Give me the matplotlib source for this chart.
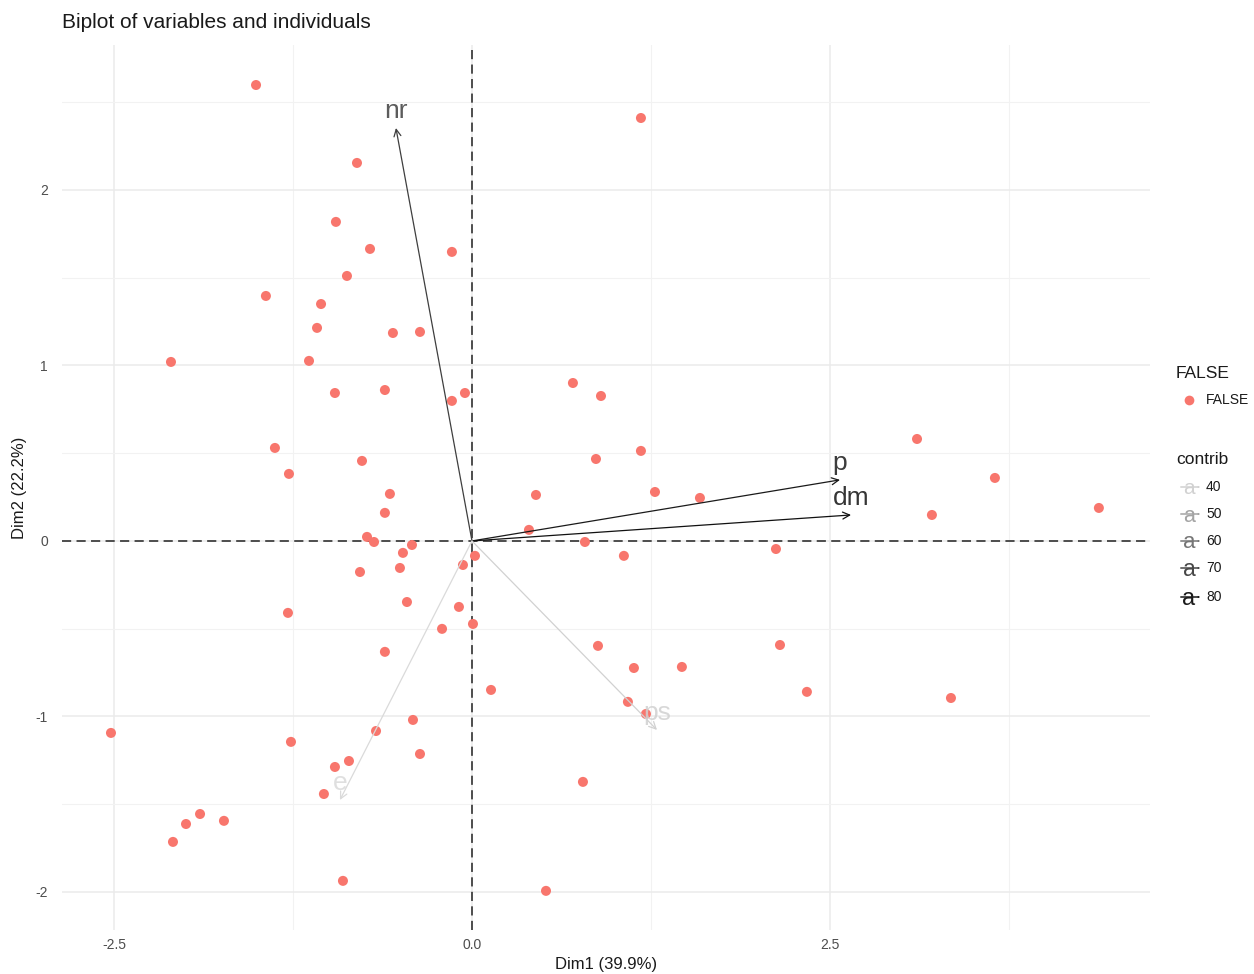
import matplotlib
matplotlib.use("Agg")
import matplotlib.pyplot as plt
import numpy as np
from matplotlib.colors import LinearSegmentedColormap, Normalize

plt.rcParams["font.family"] = ["Liberation Sans", "DejaVu Sans"]

# Individuals: coordinates on the first two principal dimensions
ind_x = [-1.508, 1.180, -0.803, -0.950, -0.712, -0.140, -0.873, -1.439, -1.054, -1.082,
         -0.552, -0.363, -1.138, -2.102, -0.957, -0.608, -0.049, -0.140, 0.705, 0.901,
         -1.376, -1.278, -0.768, 0.866, 1.180, 3.108, 3.652, 4.378, 3.212, 1.278,
         1.592, 0.447, -0.573, -0.608, 0.398, -0.733, -0.684, 0.789, -0.419, -0.482,
         0.021, -0.063, -0.782, -0.503, 1.061, 2.123, -0.454, -0.091, -1.285, 0.007,
         -0.209, -0.608, 0.880, 2.151, 1.131, 1.466, 0.133, 2.339, 3.345, 1.089,
         1.215, -0.412, -2.521, -0.670, -1.264, -0.363, -0.859, -0.957, 0.775, -1.034,
         -1.732, -1.899, -1.997, -2.088, -0.901, 0.517]
ind_y = [2.598, 2.410, 2.154, 1.818, 1.664, 1.647, 1.510, 1.396, 1.350, 1.214,
         1.185, 1.191, 1.026, 1.020, 0.843, 0.860, 0.843, 0.798, 0.900, 0.826,
         0.530, 0.382, 0.456, 0.467, 0.513, 0.581, 0.359, 0.188, 0.148, 0.279,
         0.245, 0.262, 0.268, 0.160, 0.063, 0.023, -0.006, -0.006, -0.023, -0.068,
         -0.085, -0.137, -0.177, -0.154, -0.085, -0.046, -0.348, -0.376, -0.410, -0.473,
         -0.501, -0.632, -0.598, -0.593, -0.724, -0.718, -0.849, -0.860, -0.895, -0.917,
         -0.986, -1.020, -1.094, -1.083, -1.145, -1.214, -1.254, -1.288, -1.373, -1.442,
         -1.595, -1.556, -1.613, -1.715, -1.937, -1.994]

# Variables: arrow tips and contributions
var_names = ["nr", "p", "dm", "ps", "e"]
var_x = [-0.531, 2.570, 2.647, 1.292, -0.922]
var_y = [2.353, 0.348, 0.148, -1.077, -1.476]
var_contrib = [72, 80, 82, 40, 38]

contrib_breaks = [40, 50, 60, 70, 80]
x_ticks = [-2.5, 0.0, 2.5]
x_ticklabels = ["-2.5", "0.0", "2.5"]
y_ticks = [-2, -1, 0, 1, 2]
y_ticklabels = ["-2", "-1", "0", "1", "2"]

point_color = "#F8766D"
cmap = LinearSegmentedColormap.from_list("contrib", ["#dadada", "#111111"])
norm = Normalize(vmin=min(var_contrib), vmax=max(var_contrib))

W, H = 1254, 974
fig = plt.figure(figsize=(W / 100, H / 100), dpi=100)
ax = fig.add_axes([62 / W, 1 - 930 / H, (1150 - 62) / W, (930 - 45) / H])

ax.set_xlim(-2.863, 4.735)
ax.set_ylim(-2.217, 2.826)

# grid like a minimal theme
ax.set_xticks(x_ticks)
ax.set_xticklabels(x_ticklabels)
ax.set_yticks(y_ticks)
ax.set_yticklabels(y_ticklabels)
ax.set_xticks([-1.25, 1.25, 3.75], minor=True)
ax.set_yticks([-1.5, -0.5, 0.5, 1.5, 2.5], minor=True)
ax.grid(which="major", color="#ebebeb", lw=1.1)
ax.grid(which="minor", color="#f2f2f2", lw=0.8)
ax.set_axisbelow(True)
for s in ax.spines.values():
    s.set_visible(False)
ax.tick_params(which="both", length=0, labelsize=10, colors="#4d4d4d", pad=6)
ax.tick_params(axis="y", pad=10)

# reference lines
ax.axhline(0, color="#222222", lw=1.1, ls=(0, (6, 3.5)), zorder=2)
ax.axvline(0, color="#222222", lw=1.1, ls=(0, (6, 3.5)), zorder=2)

# individuals
ax.scatter(ind_x, ind_y, s=52, color=point_color, edgecolors="none", zorder=3)

# variable arrows and labels
for name, vx, vy, c in zip(var_names, var_x, var_y, var_contrib):
    col = cmap(norm(c))
    ax.annotate("", xy=(vx, vy), xytext=(0, 0),
                arrowprops=dict(arrowstyle="->,head_length=0.5,head_width=0.25",
                                color=col, lw=0.9, shrinkA=0, shrinkB=0),
                zorder=4)
    ax.annotate(name, xy=(vx, vy), xytext=(0, 7), textcoords="offset points",
                ha="center", va="baseline", fontsize=19, color=col, alpha=0.85,
                zorder=5)

# axis titles and plot title
fig.text(606 / W, 1 - 964 / H, "Dim1 (39.9%)", fontsize=12,
         color="#1a1a1a", ha="center", va="center")
fig.text(20 / W, 1 - 488 / H, "Dim2 (22.2%)", fontsize=12, rotation=90,
         color="#1a1a1a", ha="center", va="center")
fig.text(62 / W, 1 - 23 / H, "Biplot of variables and individuals",
         fontsize=15, color="#1a1a1a", ha="left", va="center")

# legend: groups
fig.text(1176 / W, 1 - 374 / H, "FALSE", fontsize=12.5, color="#1a1a1a", va="center")
fig.lines.append(plt.Line2D([1189 / W], [1 - 400 / H], marker="o", ms=7,
                            color=point_color, mec="none", transform=fig.transFigure))
fig.text(1206 / W, 1 - 400 / H, "FALSE", fontsize=10, color="#1a1a1a", va="center")

# legend: contribution shades
fig.text(1176 / W, 1 - 460 / H, "contrib", fontsize=12.5, color="#1a1a1a", va="center")
key_y = [487, 514, 541, 568, 597]
for b, ky in zip(contrib_breaks, key_y):
    col = cmap(norm(b))
    yk = 1 - ky / H
    fig.text(1189 / W, yk - 2 / H, "a", fontsize=15 + (b - 40) / 20, color=col,
             ha="center", va="center")
    fig.patches.append(matplotlib.patches.FancyArrowPatch(
        (1178 / W, yk), (1203 / W, yk), transform=fig.transFigure,
        arrowstyle="->,head_length=0.3,head_width=0.18", color=col, lw=1.1))
    fig.text(1206 / W, yk, str(b), fontsize=10, color="#1a1a1a", va="center")

fig.savefig("out.png", dpi=100)
